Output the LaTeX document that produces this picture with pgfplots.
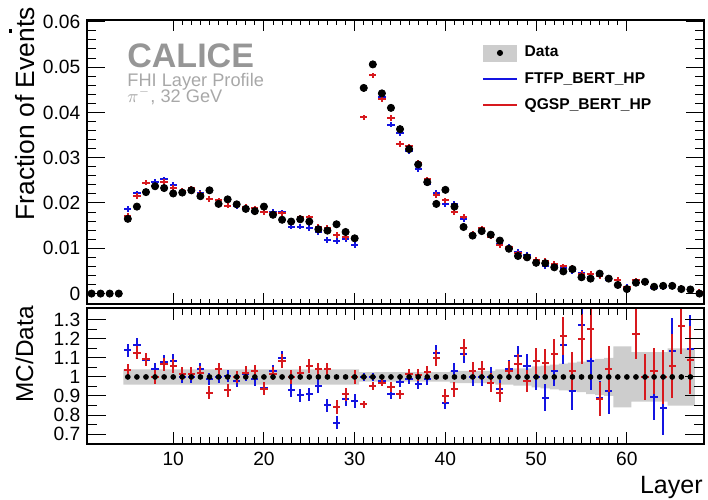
\documentclass[border=0pt]{standalone}
\usepackage{fontspec}
\setmainfont{Liberation Sans}
\usepackage{pgfplots}
\usepackage{pgfplotstable}
\pgfplotsset{compat=1.18}
\usepgfplotslibrary{fillbetween}

\definecolor{mcblue}{RGB}{20,20,225}
\definecolor{mcred}{RGB}{215,25,30}
\definecolor{bandgray}{RGB}{205,205,205}
\definecolor{calgray}{RGB}{150,150,150}
\definecolor{subgray}{RGB}{168,168,168}

% layer profile: data (d), FTFP_BERT_HP (b), QGSP_BERT_HP (r)
\pgfplotstableread{
l d b r
1 0 nan nan
2 0 nan nan
3 0 nan nan
4 0 nan nan
5 0.0165 0.0187 0.0171
6 0.0192 0.0221 0.0215
7 0.0224 0.0245 0.0245
8 0.0237 0.0247 0.0238
9 0.0233 0.0252 0.0246
10 0.0221 0.0240 0.0233
11 0.0223 0.0223 0.0227
12 0.0228 0.0228 0.0232
13 0.0215 0.0223 0.0220
14 0.0228 0.0226 0.0209
15 0.0198 0.0198 0.0206
16 0.0208 0.0209 0.0194
17 0.0197 0.0193 0.0197
18 0.0187 0.0190 0.0191
19 0.0182 0.0180 0.0188
20 0.0192 0.0181 0.0180
21 0.0174 0.0180 0.0177
22 0.0163 0.0179 0.0177
23 0.0159 0.0148 0.0159
24 0.0164 0.0148 0.0168
25 0.0159 0.0145 0.0168
26 0.0142 0.0135 0.0148
27 0.0139 0.0118 0.0145
28 0.0153 0.0116 0.0129
29 0.0136 0.0120 0.0124
30 0.0122 0.0107 0.0122
31 0.0454 0.0454 0.0389
32 0.0506 0.0506 0.0482
33 0.0442 0.0433 0.0429
34 0.0410 0.0373 0.0388
35 0.0363 0.0354 0.0330
36 0.0319 0.0315 0.0325
37 0.0285 0.0275 0.0288
38 0.0246 0.0243 0.0252
39 0.0198 0.0223 0.0218
40 0.0229 0.0198 0.0206
41 0.0192 0.0198 0.0180
42 0.0147 0.0165 0.0170
43 0.0128 0.0128 0.0132
44 0.0138 0.0138 0.0144
45 0.0130 0.0130 0.0126
46 0.0117 0.0109 0.0107
47 0.0099 0.0103 0.0102
48 0.0083 0.0092 0.0089
49 0.0080 0.0085 0.0078
50 0.0068 0.0068 0.0074
51 0.0067 0.0060 0.0072
52 0.0058 0.0060 0.0065
53 0.0049 0.0057 0.0060
54 0.0054 0.0050 0.0056
55 0.0036 0.0046 0.0043
56 0.0033 0.0036 0.0043
57 0.0044 0.0039 0.0039
58 0.0033 0.0031 0.0034
59 0.0019 0.0030 0.0030
60 0.0010 0.0015 0.0014
61 0.0024 0.0029 0.0029
62 0.0026 0.0026 0.0026
63 0.0015 0.0013 0.0015
64 0.0017 0.0014 0.0017
65 0.0017 0.0019 0.0018
66 0.0010 0.0013 0.0013
67 0.0009 0.0010 0.0010
68 0.0000 0.0003 0.0003
}\profile

% MC/Data ratios, e = stat. error of the MC ratio
\pgfplotstableread{
l d b r e
5 1 1.140 1.035 0.035
6 1 1.167 1.128 0.035
7 1 1.090 1.093 0.035
8 1 1.040 1.000 0.035
9 1 1.079 1.067 0.035
10 1 1.084 1.058 0.035
11 1 1.000 1.018 0.033
12 1 1.000 1.018 0.033
13 1 1.040 1.023 0.033
14 1 0.990 0.918 0.033
15 1 1.000 1.040 0.033
16 1 1.005 0.930 0.033
17 1 0.980 1.000 0.033
18 1 1.014 1.023 0.033
19 1 0.988 1.032 0.033
20 1 0.940 0.939 0.033
21 1 1.032 1.018 0.033
22 1 1.100 1.084 0.035
23 1 0.930 1.000 0.035
24 1 0.904 1.023 0.035
25 1 0.909 1.058 0.035
26 1 0.953 1.040 0.035
27 1 0.851 1.040 0.035
28 1 0.760 0.842 0.035
29 1 0.882 0.909 0.035
30 1 0.874 1.000 0.035
31 1 1.000 0.856 0.020
32 1 1.000 0.953 0.020
33 1 0.980 0.970 0.020
34 1 0.909 0.947 0.025
35 1 0.974 0.909 0.025
36 1 0.988 1.018 0.025
37 1 0.965 1.010 0.030
38 1 0.988 1.026 0.030
39 1 1.128 1.100 0.040
40 1 0.865 0.900 0.035
41 1 1.032 0.935 0.040
42 1 1.119 1.154 0.045
43 1 1.000 1.032 0.045
44 1 1.000 1.040 0.045
45 1 1.000 0.970 0.050
46 1 0.935 0.918 0.050
47 1 1.040 1.032 0.050
48 1 1.110 1.067 0.055
49 1 1.058 0.979 0.060
50 1 1.000 1.084 0.070
51 1 0.891 1.075 0.070
52 1 1.032 1.119 0.080
53 1 1.167 1.216 0.100
54 1 0.926 1.032 0.100
55 1 1.274 1.200 0.130
56 1 1.084 1.250 0.150
57 1 0.891 0.886 0.090
58 1 0.926 1.040 0.120
59 1 1.600 1.600 0.100
60 1 1.500 1.500 0.100
61 1 1.228 1.225 0.130
62 1 1.000 1.000 0.120
63 1 0.895 1.032 0.120
64 1 0.835 1.000 0.140
65 1 1.137 1.058 0.170
66 1 1.268 1.270 0.150
67 1 1.146 1.088 0.180
}\ratio

% data uncertainty band (half width), one bin per layer
\pgfplotstableread{
l e
5 0.04
6 0.04
7 0.04
8 0.04
9 0.04
10 0.04
11 0.04
12 0.04
13 0.04
14 0.04
15 0.04
16 0.04
17 0.04
18 0.04
19 0.04
20 0.04
21 0.04
22 0.04
23 0.04
24 0.04
25 0.04
26 0.04
27 0.04
28 0.04
29 0.04
30 0.04
31 0.025
32 0.025
33 0.025
34 0.025
35 0.025
36 0.025
37 0.025
38 0.025
39 0.025
40 0.025
41 0.032
42 0.032
43 0.032
44 0.032
45 0.032
46 0.04
47 0.04
48 0.045
49 0.045
50 0.055
51 0.06
52 0.065
53 0.07
54 0.075
55 0.08
56 0.09
57 0.095
58 0.10
59 0.16
60 0.16
61 0.13
62 0.13
63 0.13
64 0.13
65 0.15
66 0.15
67 0.15
68 0.15
}\band

\begin{document}
\begin{tikzpicture}
\path (0,0) rectangle (354pt,249.5pt);

\pgfplotsset{
  calice/.style={
    scale only axis, width=308.5pt,
    xmin=0.5, xmax=68.5,
    axis line style={line width=0.6pt},
    tick align=inside, tick pos=both,
    xtick={10,20,30,40,50,60}, minor x tick num=9,
    every tick/.style={black, line width=0.5pt},
    yticklabel style={font=\fontsize{9.6}{10}\selectfont, inner sep=0pt, xshift=-3.2pt},
    xticklabel style={font=\fontsize{9.6}{10}\selectfont, inner sep=0pt, yshift=-3.9pt},
    scaled y ticks=false,
    axis on top,
  },
}

% ---------- upper panel ----------
\begin{axis}[calice,
  at={(43.5pt,97.5pt)}, anchor=south west, height=142pt,
  ymin=-0.0023, ymax=0.0604,
  ytick={0,0.01,0.02,0.03,0.04,0.05,0.06},
  yticklabels={0,0.01,0.02,0.03,0.04,0.05,0.06},
  minor y tick num=4,
  xticklabels={},
  major x tick style={/pgfplots/major tick length=5.5pt},
  minor x tick style={/pgfplots/minor tick length=2.7pt},
  major y tick style={/pgfplots/major tick length=9pt},
  minor y tick style={/pgfplots/minor tick length=4.5pt},
  legend style={draw=none, fill=none, at={(0.64,0.915)}, anchor=north west,
    inner sep=0pt, row sep=5pt,
    font=\fontsize{7.8}{9}\selectfont\bfseries,
    nodes={inner sep=0pt, text height=6pt, text depth=2pt},
    /tikz/every odd column/.style={column sep=3.5pt}},
  legend cell align=left,
]
\addlegendimage{legend image code/.code={
  \fill[bandgray] (0pt,-4pt) rectangle (16.7pt,4pt);
  \fill[black] (8.35pt,0pt) circle (1.3pt);}}
\addlegendimage{legend image code/.code={
  \draw[mcblue, line width=1pt] (0pt,0pt) -- (16.7pt,0pt);}}
\addlegendimage{legend image code/.code={
  \draw[mcred, line width=1pt] (0pt,0pt) -- (16.7pt,0pt);}}

\addplot[draw=none, no markers, forget plot,
  error bars/.cd, x dir=both, x fixed=0.4, y dir=both, y fixed=0.0006,
  error mark=none, error bar style={draw=mcblue, line width=1pt}]
  table[x=l, y=b] {\profile};
\addplot[draw=none, no markers, forget plot,
  error bars/.cd, x dir=both, x fixed=0.4, y dir=both, y fixed=0.0006,
  error mark=none, error bar style={draw=mcred, line width=1pt}]
  table[x=l, y=r] {\profile};
\addplot[only marks, mark=*, mark size=1.8pt, black, forget plot]
  table[x=l, y=d] {\profile};
\legend{Data, FTFP\_BERT\_HP, QGSP\_BERT\_HP}
\end{axis}

% ---------- ratio panel ----------
\begin{axis}[calice,
  at={(43.5pt,27.5pt)}, anchor=south west, height=68pt,
  ymin=0.648, ymax=1.362,
  ytick={0.7,0.8,0.9,1,1.1,1.2,1.3},
  yticklabels={0.7,0.8,0.9,1,1.1,1.2,1.3},
  minor y tick num=1,
  xticklabels={10,20,30,40,50,60},
  major x tick style={/pgfplots/major tick length=6pt},
  minor x tick style={/pgfplots/minor tick length=3.3pt},
  major y tick style={/pgfplots/major tick length=9.5pt},
  minor y tick style={/pgfplots/minor tick length=5pt},
]
\addplot[name path=bu, draw=none, const plot mark left]
  table[x expr=\thisrow{l}-0.5, y expr=1+\thisrow{e}] {\band};
\addplot[name path=bl, draw=none, const plot mark left]
  table[x expr=\thisrow{l}-0.5, y expr=1-\thisrow{e}] {\band};
\addplot[fill=bandgray, draw=none] fill between[of=bu and bl];

\addplot[only marks, mark=*, mark size=1.2pt, black]
  table[x=l, y=d] {\ratio};
\addplot[draw=none, no markers,
  error bars/.cd, x dir=both, x fixed=0.4, y dir=both, y explicit,
  error mark=none, error bar style={draw=mcblue, line width=1pt}]
  table[x=l, y=b, y error=e] {\ratio};
\addplot[draw=none, no markers,
  error bars/.cd, x dir=both, x fixed=0.4, y dir=both, y explicit,
  error mark=none, error bar style={draw=mcred, line width=1pt}]
  table[x=l, y=r, y error=e] {\ratio};
\end{axis}

% ---------- titles and labels ----------
\node[anchor=base west, inner sep=0pt, text=calgray,
  font=\fontsize{17}{18}\selectfont\bfseries] at (63.5pt,215.5pt) {CALICE};
\node[anchor=base west, inner sep=0pt, text=subgray,
  font=\fontsize{9.1}{10}\selectfont] at (63.5pt,206pt) {FHI Layer Profile};
\node[anchor=base west, inner sep=0pt, text=subgray,
  font=\fontsize{9.1}{10}\selectfont] at (63.5pt,198.4pt) {$\pi^{\scriptscriptstyle -}$, 32 GeV};

\node[rotate=90, anchor=north east, inner sep=0pt,
  font=\fontsize{13.2}{14}\selectfont] at (7.5pt,246pt) {Fraction of Events};
\node[rotate=90, anchor=north east, inner sep=0pt,
  font=\fontsize{12.2}{13}\selectfont] at (7.5pt,96.5pt) {MC/Data};
\node[anchor=base east, inner sep=0pt,
  font=\fontsize{12.5}{13}\selectfont] at (351.5pt,2.5pt) {Layer};
\fill (4.6pt,233pt) rectangle (5.8pt,234.8pt);
\end{tikzpicture}
\end{document}
